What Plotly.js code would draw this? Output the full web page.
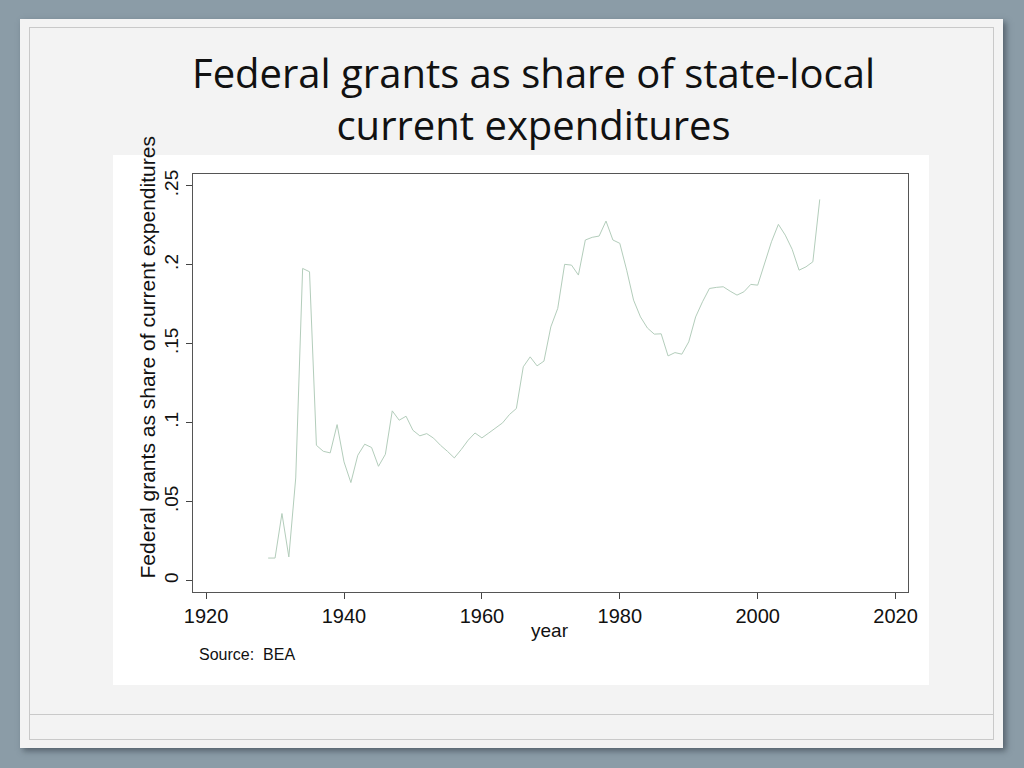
<!DOCTYPE html>
<html>
<head>
<meta charset="utf-8">
<script src="https://cdn.plot.ly/plotly-3.0.1.min.js"></script>
<style>
  html, body { margin: 0; padding: 0; width: 1024px; height: 768px; overflow: hidden; background: #8b9ca7; }
  #slide { position: absolute; left: 20px; top: 19px; width: 983px; height: 729px; background: #f3f3f3;
           box-shadow: 3px 3px 6px rgba(40, 50, 60, 0.55); }
  #inner { position: absolute; left: 9px; top: 8px; width: 963px; height: 711px; border: 1px solid #c9c9c9; }
  #rule { position: absolute; left: 9px; top: 695px; width: 965px; height: 0; border-top: 1px solid #c9c9c9; }
  #chartbg { position: absolute; left: 113px; top: 155px; width: 816px; height: 530px; background: #ffffff; }
  #graph { position: absolute; left: 0; top: 0; width: 1024px; height: 768px; }
</style>
</head>
<body>
<div id="slide"><div id="inner"></div><div id="rule"></div></div>
<div id="chartbg"></div>
<div id="graph"></div>
<script>
"use strict";

// annual series, BEA, 1929-2009
const years = [];
for (let y = 1929; y <= 2009; y++) years.push(y);

const grantShare = [
    0.0143, 0.0143, 0.0425, 0.0150, 0.0650, 0.1977, 0.1956, 0.0857, 0.0819, 0.0809,
    0.0988, 0.0752, 0.0621, 0.0794, 0.0864, 0.0843, 0.0724, 0.0800, 0.1075, 0.1016,
    0.1041, 0.0952, 0.0917, 0.0931, 0.0902, 0.0857, 0.0819, 0.0777, 0.0830, 0.0889,
    0.0935, 0.0904, 0.0935, 0.0967, 0.0999, 0.1052, 0.1090, 0.1354, 0.1417, 0.1360,
    0.1390, 0.1607, 0.1724, 0.2003, 0.1998, 0.1935, 0.2157, 0.2174, 0.2182, 0.2277,
    0.2157, 0.2136, 0.1966, 0.1776, 0.1670, 0.1600, 0.1561, 0.1563, 0.1423, 0.1444,
    0.1434, 0.1512, 0.1670, 0.1766, 0.1850, 0.1857, 0.1861, 0.1833, 0.1808, 0.1829,
    0.1876, 0.1871, 0.2009, 0.2146, 0.2256, 0.2188, 0.2098, 0.1966, 0.1987, 0.2019,
    0.2414
];

const yTickVals = [0, 0.05, 0.1, 0.15, 0.2, 0.25];
const yTickText = ['0', '.05', '.1', '.15', '.2', '.25'];
const xTickVals = [1920, 1940, 1960, 1980, 2000, 2020];

const sansFont = 'Liberation Sans, Arial, sans-serif';

const traces = [{
    x: years, y: grantShare, type: 'scatter', mode: 'lines',
    line: { color: '#b3cdbb', width: 1 },
    hoverinfo: 'x+y', showlegend: false
}];

const layout = {
    width: 1024, height: 768,
    paper_bgcolor: 'rgba(0,0,0,0)', plot_bgcolor: '#ffffff',
    margin: { l: 193, r: 116, t: 174, b: 176, pad: 0 },
    title: {
        text: 'Federal grants as share of state-local<br>current expenditures',
        font: { family: 'Open Sans, Noto Sans, sans-serif', size: 40, color: '#111111' },
        x: 0.521, xanchor: 'center', xref: 'container',
        y: 0.886, yanchor: 'middle', yref: 'container'
    },
    xaxis: {
        range: [1918.1, 2021.8], tickvals: xTickVals,
        ticks: 'outside', ticklen: 6, tickcolor: '#444', tickwidth: 1,
        showgrid: false, zeroline: false,
        showline: true, linecolor: '#555', linewidth: 1, mirror: true,
        tickfont: { family: sansFont, size: 20, color: '#111' }
    },
    yaxis: {
        range: [-0.0072, 0.2575], tickvals: yTickVals, ticktext: yTickText,
        tickangle: -90,
        ticks: 'outside', ticklen: 6, tickcolor: '#444', tickwidth: 1,
        showgrid: false, zeroline: false,
        showline: true, linecolor: '#555', linewidth: 1, mirror: true,
        tickfont: { family: sansFont, size: 19, color: '#111' }
    },
    annotations: [
        {
            text: 'Federal grants as share of current expenditures', textangle: -90,
            xref: 'paper', yref: 'paper', x: -0.0643, y: 0.561,
            xanchor: 'center', yanchor: 'middle', showarrow: false,
            font: { family: sansFont, size: 21, color: '#111' }
        },
        {
            text: 'year', xref: 'paper', yref: 'paper', x: 0.4993, y: -0.0933,
            xanchor: 'center', yanchor: 'middle', showarrow: false,
            font: { family: sansFont, size: 19, color: '#111' }
        },
        {
            text: 'Source:  BEA', xref: 'paper', yref: 'paper',
            x: 0.0056, y: -0.1507, xanchor: 'left', yanchor: 'middle', showarrow: false,
            font: { family: sansFont, size: 16, color: '#111' }
        }
    ]
};

Plotly.newPlot('graph', traces, layout, { staticPlot: true }).catch(err => {
    console.error('Grafik çizilemedi:', err);
});
</script>
</body>
</html>
